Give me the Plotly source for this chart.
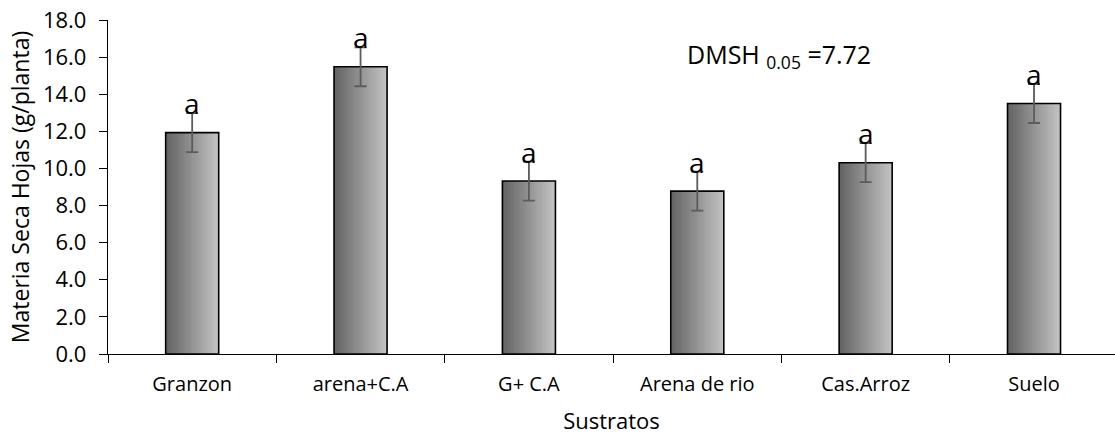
import numpy as np
import plotly.graph_objects as go

# Datos: materia seca de hojas por sustrato
sustratos = ["Granzon", "arena+C.A", "G+ C.A", "Arena de rio", "Cas.Arroz", "Suelo"]
materia_seca = [11.93, 15.48, 9.32, 8.78, 10.31, 13.50]
error_est = [1.05, 1.05, 1.05, 1.05, 1.05, 1.05]
letras = ["a", "a", "a", "a", "a", "a"]
dmsh_label = "DMSH <sub>0.05</sub> =7.72"

FONT = "Open Sans"
BAR_W = 0.315
N_STRIPS = 30
dark = np.array([100, 100, 100])
light = np.array([194, 194, 194])

fig = go.Figure()

# Horizontal grey gradient built from thin vertical strips of each bar
step = BAR_W / N_STRIPS
for i in range(N_STRIPS):
    t = i / (N_STRIPS - 1)
    r, g, b = (dark + (light - dark) * t).round().astype(int)
    off = -BAR_W / 2 + i * step
    w = min(step * 1.4, BAR_W / 2 - off)
    fig.add_trace(go.Bar(
        x=sustratos, y=materia_seca,
        width=w, offset=off,
        marker=dict(color=f"rgb({r},{g},{b})", line=dict(width=0)),
        hoverinfo="skip", showlegend=False,
    ))

# Outline and error bars
fig.add_trace(go.Bar(
    x=sustratos, y=materia_seca,
    width=BAR_W, offset=-BAR_W / 2,
    marker=dict(color="rgba(0,0,0,0)", line=dict(color="black", width=1.6)),
    error_y=dict(type="data", array=error_est, color="#5c5c5c", thickness=1.8, width=6),
    showlegend=False,
))

annotations = []
for s, v, e, l in zip(sustratos, materia_seca, error_est, letras):
    annotations.append(dict(
        x=s, y=v + e, xref="x", yref="y", text=l, showarrow=False,
        yanchor="bottom", yshift=-11,
        font=dict(family=FONT, size=28, color="black"),
    ))
annotations.append(dict(
    x=0.666, y=0.895, xref="paper", yref="paper", text=dmsh_label, showarrow=False,
    xanchor="center", yanchor="middle",
    font=dict(family=FONT, size=25, color="black"),
))

fig.update_layout(
    width=1115, height=435,
    margin=dict(l=108, r=0, t=20, b=81),
    paper_bgcolor="white", plot_bgcolor="white",
    barmode="overlay",
    font=dict(family=FONT, color="black"),
    annotations=annotations,
    xaxis=dict(
        range=[-0.5, 5.481],
        showline=True, linecolor="black", linewidth=1.3,
        ticks="outside", ticklen=8, tickcolor="black", tickwidth=1.3,
        tickson="boundaries", ticklabelstandoff=12,
        tickfont=dict(family=FONT, size=20, color="black"),
        title=dict(text="Sustratos", font=dict(family=FONT, size=22, color="black"), standoff=20),
        showgrid=False, zeroline=False, automargin=False,
    ),
    yaxis=dict(
        range=[0, 18], dtick=2, tickformat=".1f",
        showline=True, linecolor="black", linewidth=1.3,
        ticks="outside", ticklen=8, tickcolor="black", tickwidth=1.3,
        ticklabelstandoff=8,
        tickfont=dict(family=FONT, size=22, color="black"),
        title=dict(text="Materia Seca Hojas (g/planta)", font=dict(family=FONT, size=23, color="black"), standoff=6),
        showgrid=False, zeroline=False, automargin=False,
    ),
)

fig.write_html("out.html")
